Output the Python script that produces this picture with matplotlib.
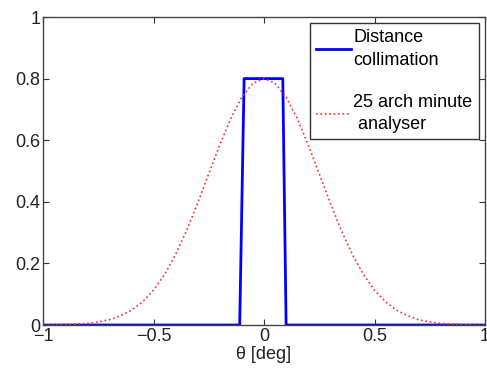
import matplotlib
matplotlib.use('Agg')
import matplotlib.pyplot as plt

# blue: distance collimation (trapezoid)
coll_x = [-1.0, -0.11, -0.09, 0.085, 0.10, 1.0]
coll_y = [0.0, 0.0, 0.8, 0.8, 0.0, 0.0]

# red dotted: 25 arch minute analyser
ana_x = [-1.0, -0.95, -0.9, -0.85, -0.8, -0.75, -0.7, -0.65, -0.6, -0.55, -0.5,
         -0.45, -0.4, -0.35, -0.3, -0.25, -0.2, -0.15, -0.1, -0.05, 0.0,
         0.05, 0.1, 0.15, 0.2, 0.25, 0.3, 0.35, 0.4, 0.45, 0.5,
         0.55, 0.6, 0.65, 0.7, 0.75, 0.8, 0.85, 0.9, 0.95, 1.0]
ana_y = [0.0, 0.0, 0.001, 0.003, 0.005, 0.010, 0.017, 0.030, 0.048, 0.075, 0.113,
         0.164, 0.229, 0.307, 0.396, 0.491, 0.585, 0.671, 0.740, 0.785, 0.800,
         0.785, 0.740, 0.671, 0.585, 0.491, 0.396, 0.307, 0.229, 0.164, 0.113,
         0.075, 0.048, 0.030, 0.017, 0.010, 0.005, 0.003, 0.001, 0.0, 0.0]

xticks = [-1, -0.5, 0, 0.5, 1]
xticklabels = ['\u22121', '\u22120.5', '0', '0.5', '1']
yticks = [0, 0.2, 0.4, 0.6, 0.8, 1]
yticklabels = ['0', '0.2', '0.4', '0.6', '0.8', '1']

plt.rcParams['font.family'] = ['Liberation Sans', 'DejaVu Sans']
plt.rcParams['font.size'] = 13

fig = plt.figure(figsize=(4.87, 3.68), dpi=100)
ax = fig.add_axes([0.0883, 0.1168, 0.9076, 0.837])

ax.plot(coll_x, coll_y, color=(0, 0, 1), lw=2, label='Distance\ncollimation')
ax.plot(ana_x, ana_y, color='#ff2a2a', ls=':', lw=1.2, label='25 arch minute\n analyser')

ax.set_xlim(-1, 1)
ax.set_ylim(0, 1)
ax.set_xticks(xticks)
ax.set_xticklabels(xticklabels)
ax.set_yticks(yticks)
ax.set_yticklabels(yticklabels)
ax.tick_params(direction='in', length=4, top=True, right=True, pad=2,
               color='#333333', labelcolor='#222222')
for s in ax.spines.values():
    s.set_color('#444444')
    s.set_linewidth(1)
ax.set_xlabel('\u03b8 [deg]', labelpad=1, color='#222222')

leg = ax.legend(loc='upper right', bbox_to_anchor=(0.986, 0.98), borderaxespad=0,
                fancybox=False, edgecolor='#333333', framealpha=1,
                handlelength=1.9, handletextpad=0.15, labelspacing=1.4,
                borderpad=0.35)
for t in leg.get_texts():
    t.set_linespacing(1.4)
leg.get_frame().set_linewidth(1)

plt.savefig('out.png', dpi=100)
plt.close()
